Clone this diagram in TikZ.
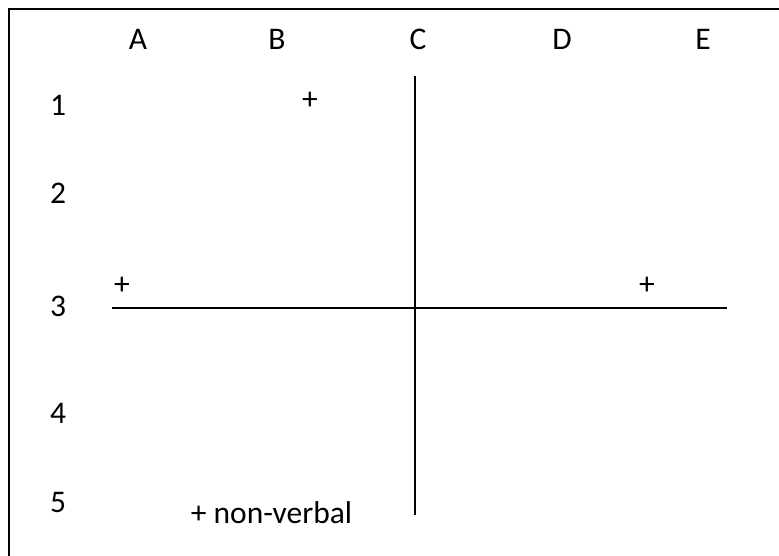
\documentclass[tikz,border=0pt]{standalone}
\usepackage{fontspec}
\setmainfont{Carlito}
\begin{document}
\begin{tikzpicture}[x=1pt,y=-1pt,
  lbl/.style={inner sep=0pt, anchor=base, font=\fontsize{31.5}{36}\selectfont},
  axisline/.style={line width=1.5pt},
  framebox/.style={line width=2pt}]
\useasboundingbox (0,0) rectangle (779,556);
\draw[framebox] (9,9) rectangle (800,580);
% column letters
\node[lbl] (colA) at (138,50) {A};
\node[lbl] (colB) at (277,50) {B};
\node[lbl] (colC) at (418,50) {C};
\node[lbl] (colD) at (562,50) {D};
\node[lbl] (colE) at (703,50) {E};
% row numbers
\node[lbl] (row1) at (58,116) {1};
\node[lbl] (row2) at (58,204) {2};
\node[lbl] (row3) at (58,316) {3};
\node[lbl] (row4) at (58,423) {4};
\node[lbl] (row5) at (58,512) {5};
% plus marks
\node[lbl] (plusB) at (310,110) {+};
\node[lbl] (plusA) at (122,294) {+};
\node[lbl] (plusE) at (647,294) {+};
\node[lbl] (nonverbal) at (271.5,523) {+ non-verbal};
% axes
\coordinate (vtop) at (415,76);
\coordinate (vbot) at (415,515);
\coordinate (hleft) at (112,308);
\coordinate (hright) at (727,308);
\draw[axisline] (vtop) -- (vbot);
\draw[axisline] (hleft) -- (hright);
\end{tikzpicture}
\end{document}
